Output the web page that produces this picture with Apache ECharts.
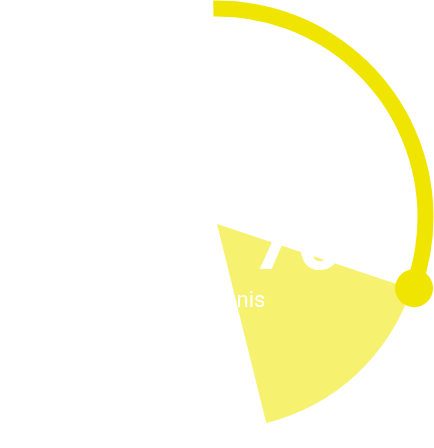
<!DOCTYPE html>
<html>
<head>
<meta charset="utf-8">
<script src="https://cdn.jsdelivr.net/npm/echarts@6/dist/echarts.min.js"></script>
<style>
  html, body { margin: 0; padding: 0; background: #ffffff; }
  #chart { width: 434px; height: 448px; }
</style>
</head>
<body>
<div id="chart"></div>
<script>
// ---- data ----
const gaugeNames = ['Tennis'];
const gaugeValues = [30.8];          // progress share of the full ring (0-100)
const detailLabels = ['70'];         // big number shown in the middle
const wedgeValues = [16, 84];        // highlighted sector vs. rest of the circle

const chart = echarts.init(document.getElementById('chart'), null, { renderer: 'canvas' });

const option = {
  backgroundColor: '#ffffff',
  animation: false,
  series: [
    {
      type: 'pie',
      center: [217, 224],
      radius: [0, 205],
      startAngle: -18.5,
      clockwise: true,
      silent: true,
      label: { show: false },
      labelLine: { show: false },
      data: wedgeValues.map((v, i) => ({
        value: v,
        itemStyle: { color: i === 0 ? '#F6F16E' : 'rgba(0,0,0,0)' }
      }))
    },
    {
      type: 'gauge',
      center: [217, 217],
      radius: 216.5,
      startAngle: 91,
      endAngle: -269,
      min: 0,
      max: 100,
      z: 5,
      progress: { show: true, width: 16, roundCap: false, itemStyle: { color: '#F0E500' } },
      axisLine: { show: false },
      splitLine: { show: false },
      axisTick: { show: false },
      axisLabel: { show: false },
      anchor: { show: false },
      pointer: {
        show: true,
        icon: 'circle',
        width: 38,
        length: 38,
        offsetCenter: [0, -190.5],
        itemStyle: { color: '#F0E500' }
      },
      title: {
        show: true,
        offsetCenter: [16, 84],
        color: '#ffffff',
        fontSize: 22,
        fontFamily: 'Roboto'
      },
      detail: {
        show: true,
        offsetCenter: [80, 32],
        color: '#ffffff',
        fontSize: 80,
        fontFamily: 'Roboto',
        formatter: function () { return detailLabels[0]; }
      },
      data: gaugeValues.map((v, i) => ({ value: v, name: gaugeNames[i] }))
    }
  ]
};
chart.setOption(option);
</script>
</body>
</html>
